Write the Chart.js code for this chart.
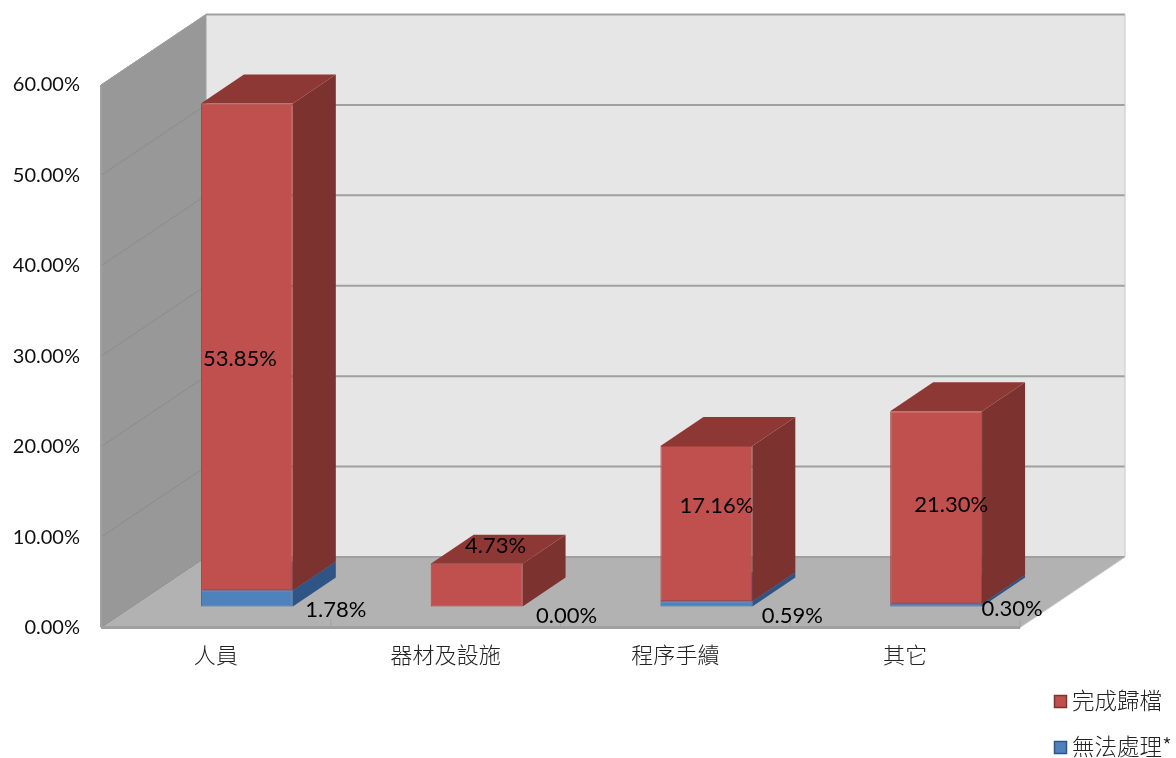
<!DOCTYPE html>
<html>
<head>
<meta charset="utf-8">
<style>
  html, body { margin: 0; padding: 0; background: #fff; }
  canvas { display: block; }
</style>
</head>
<body>
<canvas id="chart" width="1176" height="758"></canvas>
<script src="https://cdn.jsdelivr.net/npm/chart.js@4/dist/chart.umd.min.js"></script>
<script>
// --- Data ---
const categories = ['人員', '器材及設施', '程序手續', '其它'];
const doneValues = [53.85, 4.73, 17.16, 21.30];
const unableValues = [1.78, 0.00, 0.59, 0.30];
const doneLabel = '完成歸檔';
const unableLabel = '無法處理*';

// --- Look ---
const LATIN = 'Lato, "Noto Sans", sans-serif';
const CJK = '"Noto Sans CJK TC", sans-serif';
const WALL_DX = 105, WALL_DY = -70.5; // back wall offset from the front plane
const BAR_DX = 31, BAR_DY = -21;      // bars sit inside the floor
const SIDE_DX = 43, SIDE_DY = -29;    // bar depth

const RED = { front: '#c0504d', border: '#a8423f', side: '#7c322e', top: '#8e3835' };
const BLUE = { front: '#4f81bd', border: '#41699b', side: '#2f5486', top: '#3a639a' };

// hand placed data labels, offsets from the centre of each bar's front face
const doneNudge = [[-7, 12], [19, -39], [10, -18], [15, -3]];
const unableNudge = [[89, 11], [90, 9], [86, 12], [76, 4]];

const poly = (ctx, pts, fill) => {
    ctx.beginPath();
    pts.forEach((p, i) => i ? ctx.lineTo(p[0], p[1]) : ctx.moveTo(p[0], p[1]));
    ctx.closePath();
    ctx.fillStyle = fill;
    ctx.fill();
};

const line = (ctx, x1, y1, x2, y2, color, width) => {
    ctx.beginPath();
    ctx.moveTo(x1, y1);
    ctx.lineTo(x2, y2);
    ctx.strokeStyle = color;
    ctx.lineWidth = width;
    ctx.stroke();
};

// walls, floor and grid of the fake 3D box
const boxPlugin = {
    id: 'box',
    beforeDatasetsDraw: (chart) => {
        const { ctx, chartArea: a, scales } = chart;
        const y = scales.y;
        const l = a.left, r = a.right, t = a.top, b = a.bottom;

        ctx.save();
        poly(ctx, [[l + WALL_DX, t + WALL_DY], [r + WALL_DX, t + WALL_DY], [r + WALL_DX, b + WALL_DY], [l + WALL_DX, b + WALL_DY]], '#e6e6e6');
        poly(ctx, [[l, t], [l + WALL_DX, t + WALL_DY], [l + WALL_DX, b + WALL_DY], [l, b]], '#989898');
        poly(ctx, [[l, b], [r, b], [r + WALL_DX, b + WALL_DY], [l + WALL_DX, b + WALL_DY]], '#b2b2b2');

        y.ticks.forEach(tick => {
            const py = y.getPixelForValue(tick.value);
            line(ctx, l + WALL_DX, py + WALL_DY, r + WALL_DX, py + WALL_DY, '#a0a0a0', 2);
            line(ctx, l, py, l + WALL_DX, py + WALL_DY, '#8c8c8c', 1);
        });

        // outer edges
        line(ctx, l, t, l, b, '#a0a0a0', 2);
        line(ctx, l, t, l + WALL_DX, t + WALL_DY, '#a0a0a0', 1);
        line(ctx, l + WALL_DX, t + WALL_DY, l + WALL_DX, b + WALL_DY, '#a0a0a0', 1);
        line(ctx, l, b, r, b, '#a0a0a0', 3);
        line(ctx, r, b, r + WALL_DX, b + WALL_DY, '#c8c8c8', 1);
        line(ctx, r + WALL_DX, t + WALL_DY, r + WALL_DX, b + WALL_DY, '#c8c8c8', 1);

        // ticks between the categories
        const step = (r - l) / categories.length;
        categories.forEach((c, i) => {
            const px = l + step * (i + 1);
            line(ctx, px, b - 8, px, b, '#a0a0a0', 1);
        });

        // bar sides and tops, bottom segment first
        ctx.translate(BAR_DX, BAR_DY);
        chart.data.datasets.forEach((ds, d) => {
            const colors = ds.faces;
            chart.getDatasetMeta(d).data.forEach((bar) => {
                if (Math.abs(bar.base - bar.y) < 0.01) return;
                const x1 = bar.x - bar.width / 2, x2 = bar.x + bar.width / 2;
                poly(ctx, [[x2, bar.y], [x2 + SIDE_DX, bar.y + SIDE_DY], [x2 + SIDE_DX, bar.base + SIDE_DY], [x2, bar.base]], colors.side);
                poly(ctx, [[x1, bar.y], [x2, bar.y], [x2 + SIDE_DX, bar.y + SIDE_DY], [x1 + SIDE_DX, bar.y + SIDE_DY]], colors.top);
            });
        });
        // left translated so the library's own bars land on the floor
    },
    afterDatasetsDraw: (chart) => {
        const { ctx } = chart;
        ctx.restore();

        // data labels
        ctx.save();
        ctx.fillStyle = '#000';
        ctx.font = '22px ' + LATIN;
        ctx.textAlign = 'center';
        ctx.textBaseline = 'middle';
        chart.data.datasets.forEach((ds, d) => {
            chart.getDatasetMeta(d).data.forEach((bar, i) => {
                const cy = (bar.y + bar.base) / 2 + BAR_DY;
                const nudge = ds.nudge[i];
                ctx.fillText(ds.data[i].toFixed(2) + '%', bar.x + BAR_DX + nudge[0], cy + nudge[1]);
            });
        });

        // legend, top of the stack first
        const entries = chart.data.datasets.slice().reverse();
        ctx.font = '300 22.5px ' + CJK;
        ctx.textAlign = 'left';
        entries.forEach((ds, i) => {
            const top = 695.5 + i * 46;
            ctx.fillStyle = ds.faces.front;
            ctx.strokeStyle = ds.faces.side;
            ctx.lineWidth = 1.5;
            ctx.fillRect(1054.5, top, 12, 12);
            ctx.strokeRect(1054.5, top, 12, 12);
            ctx.fillStyle = '#222';
            ctx.fillText(ds.label, 1072, top + 5);
        });
        ctx.restore();
    }
};

new Chart(document.getElementById('chart').getContext('2d'), {
    type: 'bar',
    data: {
        labels: categories,
        datasets: [
            {
                label: unableLabel,
                data: unableValues,
                faces: BLUE,
                nudge: unableNudge,
                backgroundColor: BLUE.front,
                borderColor: BLUE.border,
                borderWidth: (c) => c.raw > 0 ? 1 : 0,
                borderSkipped: false,
                clip: false
            },
            {
                label: doneLabel,
                data: doneValues,
                faces: RED,
                nudge: doneNudge,
                backgroundColor: RED.front,
                borderColor: RED.border,
                borderWidth: 1,
                borderSkipped: false,
                clip: false
            }
        ]
    },
    options: {
        responsive: false,
        animation: false,
        categoryPercentage: 1,
        barPercentage: 0.4,
        layout: { padding: { top: 85, right: 156, left: 0, bottom: 0 } },
        plugins: {
            legend: { display: false },
            tooltip: { enabled: false }
        },
        scales: {
            x: {
                stacked: true,
                grid: { display: false },
                border: { display: false },
                ticks: { color: '#222', font: { family: CJK, size: 22, weight: '300' }, padding: 6, maxRotation: 0 },
                afterFit: (s) => { s.height = 130.5; }
            },
            y: {
                stacked: true,
                min: 0,
                max: 60,
                grid: { display: false },
                border: { display: false },
                ticks: {
                    stepSize: 10,
                    color: '#111',
                    padding: 13,
                    font: { family: LATIN, size: 20 },
                    callback: (v) => v.toFixed(2) + '%'
                },
                afterFit: (s) => { s.width = 101; }
            }
        }
    },
    plugins: [boxPlugin]
});
</script>
</body>
</html>
